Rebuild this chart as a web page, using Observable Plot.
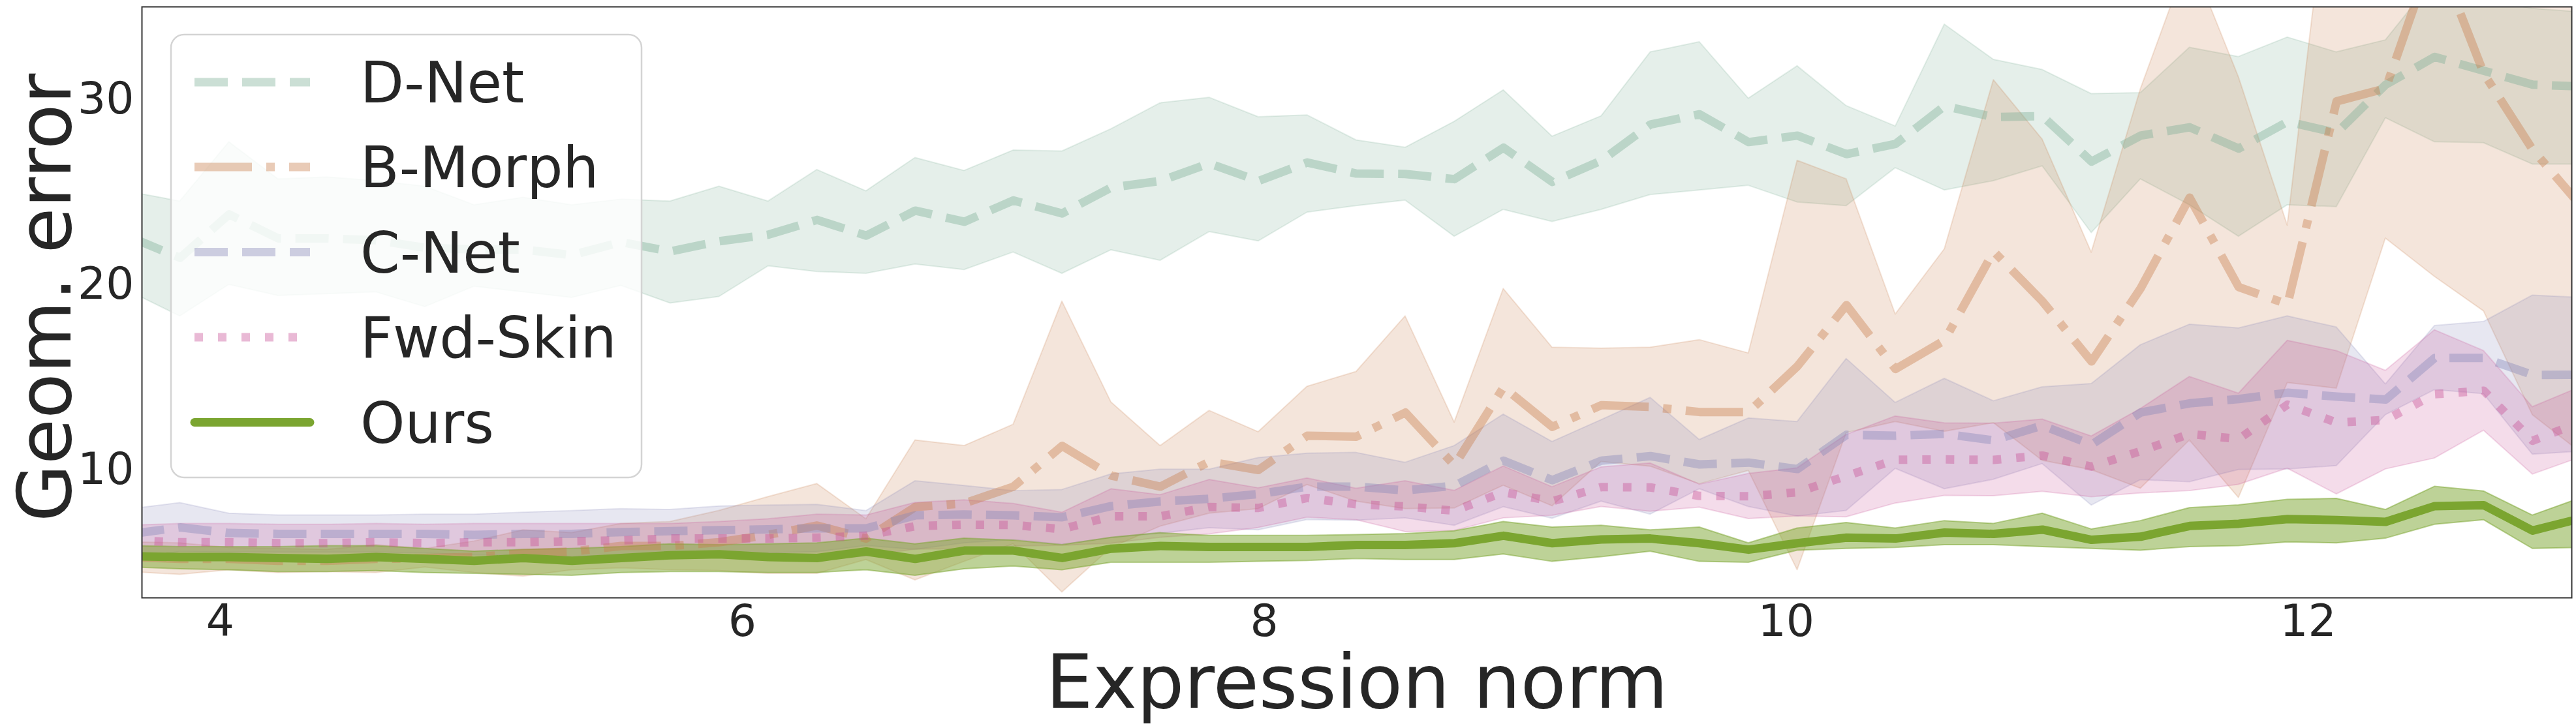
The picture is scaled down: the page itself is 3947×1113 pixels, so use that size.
<!DOCTYPE html>
<html>
<head>
<meta charset="utf-8">
<script src="https://cdn.jsdelivr.net/npm/d3@7"></script>
<script src="https://cdn.jsdelivr.net/npm/@observablehq/plot@0.6"></script>
<style>
  html, body { margin: 0; padding: 0; background: #ffffff; }
  #chart { width: 3947px; height: 1113px; overflow: hidden; }
  #chart svg { display: block; }
</style>
</head>
<body>
<div id="chart"></div>
<script>
// ---------------- data ----------------
const expressionNorm = [3.658, 3.846, 4.034, 4.222, 4.409, 4.597, 4.785, 4.973, 5.161, 5.348,
  5.536, 5.724, 5.912, 6.100, 6.287, 6.475, 6.663, 6.851, 7.039, 7.226,
  7.414, 7.602, 7.790, 7.978, 8.165, 8.353, 8.541, 8.729, 8.917, 9.104,
  9.292, 9.480, 9.668, 9.856, 10.043, 10.231, 10.419, 10.607, 10.795, 10.982,
  11.170, 11.358, 11.546, 11.734, 11.921, 12.109, 12.297, 12.485, 12.673, 12.860, 13.048];

const methods = ["D-Net", "B-Morph", "C-Net", "Fwd-Skin", "Ours"];
const xTicks = [4, 6, 8, 10, 12];
const yTicks = [10, 20, 30];

const dnetMean = [22.55, 21.45, 23.8, 22.5, 22.5, 22.4, 22.0, 21.9, 21.9, 21.6,
  22.3, 21.8, 22.35, 22.7, 23.5, 22.65, 24.0, 23.4, 24.55, 23.85,
  25.25, 25.6, 26.55, 25.6, 26.6, 26.0, 25.98, 25.7, 27.4, 25.55,
  26.7, 28.65, 29.2, 27.7, 28.05, 27.05, 27.6, 29.65, 29.05, 29.1,
  26.65, 28.05, 28.5, 27.35, 28.8, 28.2, 30.8, 32.3, 31.55, 30.8, 30.7];
const dnetHi = [25.0, 24.5, 27.7, 25.7, 25.8, 25.6, 25.3, 24.3, 24.7, 24.3,
  24.6, 24.5, 25.3, 24.5, 26.2, 25.05, 26.85, 26.15, 27.25, 27.2,
  28.4, 29.8, 30.1, 29.05, 29.15, 27.8, 27.4, 28.8, 30.5, 28.0,
  29.1, 32.55, 33.1, 30.05, 31.8, 29.65, 28.55, 34.05, 32.15, 31.6,
  30.3, 30.35, 32.8, 32.3, 33.35, 32.55, 33.2, 36.5, 35.4, 34.9, 34.7];
const dnetLo = [19.6, 18.3, 20.0, 19.4, 19.5, 19.6, 18.8, 19.9, 19.6, 19.3,
  19.95, 19.0, 19.35, 21.0, 20.7, 20.6, 21.1, 20.8, 21.75, 20.6,
  21.87, 21.3, 22.85, 22.35, 23.9, 24.25, 24.55, 22.6, 24.05, 23.4,
  24.05, 24.85, 25.1, 25.35, 24.45, 24.25, 26.3, 25.1, 25.6, 26.4,
  22.8, 25.7, 24.3, 22.6, 24.3, 24.2, 29.0, 27.7, 27.65, 26.5, 26.5];

const bmorphMean = [5.3, 5.2, 5.2, 5.1, 5.1, 5.2, 5.25, 5.3, 5.5, 5.6,
  5.9, 5.9, 6.1, 6.5, 7.0, 6.3, 8.0, 8.2, 9.1, 11.3,
  9.7, 9.1, 10.45, 10.0, 11.85, 11.8, 13.1, 10.25, 14.47, 12.33,
  13.5, 13.4, 13.13, 13.13, 15.6, 18.9, 15.45, 17.0, 21.8, 19.1,
  15.86, 19.8, 24.7, 19.87, 18.95, 29.9, 30.6, 38.2, 31.4, 27.3, 24.2];
const bmorphHi = [6.1, 6.05, 5.8, 5.75, 5.7, 5.95, 5.75, 6.15, 6.75, 6.6,
  7.1, 7.2, 7.8, 8.55, 9.25, 7.35, 11.6, 11.3, 12.45, 19.1,
  13.65, 11.3, 13.2, 12.05, 14.5, 15.3, 18.3, 12.57, 19.78, 16.61,
  16.56, 16.61, 17.02, 16.3, 26.7, 25.7, 18.4, 21.92, 31.05, 27.84,
  21.74, 30.55, 37.8, 31.2, 23.2, 45.5, 38.7, 56.0, 44.2, 41.6, 37.5];
const bmorphLo = [4.5, 4.35, 4.6, 4.45, 4.5, 4.45, 4.75, 4.45, 4.25, 4.6,
  4.7, 4.6, 4.55, 4.4, 4.4, 5.15, 4.05, 5.05, 6.0, 3.4,
  5.8, 6.95, 7.65, 7.9, 9.2, 8.3, 7.9, 7.93, 9.16, 8.05,
  10.44, 10.19, 9.24, 9.96, 4.6, 12.0, 12.6, 12.07, 12.54, 10.5,
  10.0, 9.0, 11.6, 8.5, 14.7, 14.4, 22.5, 20.43, 18.57, 12.97, 10.9];

const cnetMean = [6.55, 6.9, 6.6, 6.55, 6.55, 6.55, 6.55, 6.5, 6.55, 6.55,
  6.65, 6.7, 6.75, 6.8, 6.85, 6.85, 7.55, 7.6, 7.55, 7.45,
  8.05, 8.3, 8.45, 8.7, 9.1, 9.1, 8.9, 9.15, 10.5, 9.45,
  10.5, 10.75, 10.3, 10.4, 10.05, 11.9, 11.85, 11.95, 11.6, 12.4,
  11.37, 13.1, 13.6, 13.83, 14.17, 13.96, 13.8, 16.05, 16.05, 15.13, 15.15];
const cnetHi = [7.9, 8.22, 7.65, 7.55, 7.55, 7.55, 7.6, 7.6, 7.7, 7.79,
  7.9, 7.85, 8.04, 8.09, 8.13, 7.79, 9.4, 9.15, 8.87, 8.93,
  9.77, 10.03, 10.03, 10.65, 10.89, 10.93, 10.4, 11.3, 13.0, 11.52,
  12.7, 13.9, 11.63, 12.79, 12.6, 16.0, 13.63, 14.93, 13.72, 14.47,
  14.65, 16.74, 17.85, 17.65, 18.3, 17.7, 14.63, 17.78, 18.0, 19.42, 19.3];
const cnetLo = [5.2, 5.58, 5.55, 5.55, 5.55, 5.55, 5.5, 5.4, 5.4, 5.31,
  5.4, 5.55, 5.46, 5.51, 5.57, 5.91, 5.7, 6.05, 6.23, 5.97,
  6.33, 6.57, 6.87, 6.75, 7.31, 7.27, 7.4, 7.0, 8.0, 7.38,
  8.3, 7.6, 8.97, 8.01, 7.5, 7.8, 10.07, 8.97, 9.48, 10.33,
  8.09, 9.46, 9.35, 10.01, 10.04, 10.22, 12.97, 14.32, 14.1, 10.84, 11.0];

const fwdMean = [6.2, 6.1, 6.1, 6.05, 6.05, 6.1, 6.05, 6.1, 6.1, 6.15,
  6.2, 6.3, 6.3, 6.3, 6.35, 6.45, 6.97, 7.05, 7.03, 6.81,
  7.5, 7.5, 8.0, 7.95, 8.49, 8.15, 8.03, 7.8, 8.8, 8.31,
  9.08, 9.06, 8.6, 8.58, 8.8, 9.68, 10.55, 10.57, 10.55, 10.78,
  10.18, 11.02, 11.95, 11.67, 13.53, 12.56, 12.7, 14.09, 14.28, 11.58, 12.6];
const fwdHi = [7.0, 7.1, 7.1, 7.05, 7.05, 7.1, 7.05, 7.1, 7.1, 7.1,
  7.1, 7.1, 7.2, 7.35, 7.6, 7.55, 8.23, 8.37, 8.18, 7.7,
  8.97, 8.65, 9.47, 9.02, 9.55, 9.0, 9.4, 8.88, 10.2, 9.08,
  10.15, 10.36, 9.22, 9.8, 10.1, 11.9, 12.9, 12.53, 12.51, 12.73,
  11.82, 13.3, 15.03, 14.13, 16.98, 16.43, 15.36, 17.55, 16.43, 13.4, 14.5];
const fwdLo = [5.4, 5.1, 5.1, 5.05, 5.05, 5.1, 5.05, 5.1, 5.1, 5.2,
  5.3, 5.5, 5.4, 5.25, 5.1, 5.35, 5.71, 5.73, 5.88, 5.92,
  6.03, 6.35, 6.53, 6.88, 7.43, 7.3, 6.66, 6.72, 7.4, 7.54,
  8.01, 7.76, 7.98, 7.36, 7.5, 7.46, 8.2, 8.61, 8.59, 8.83,
  8.54, 8.74, 8.87, 9.21, 10.08, 8.69, 10.04, 10.63, 12.13, 9.76, 10.7];

const oursMean = [5.35, 5.3, 5.3, 5.25, 5.2, 5.3, 5.2, 5.1, 5.25, 5.1,
  5.25, 5.4, 5.45, 5.3, 5.25, 5.6, 5.2, 5.65, 5.65, 5.25,
  5.75, 5.9, 5.85, 5.85, 5.85, 5.95, 5.95, 6.05, 6.45, 6.05,
  6.25, 6.3, 6.05, 5.7, 6.05, 6.35, 6.3, 6.62, 6.55, 6.78,
  6.23, 6.4, 6.98, 7.1, 7.35, 7.3, 7.2, 8.05, 8.1, 6.73, 7.4];
const oursHi = [5.9, 5.85, 5.85, 5.85, 5.9, 5.9, 5.75, 5.6, 5.7, 5.75,
  5.85, 6.0, 5.95, 6.0, 6.05, 6.3, 6.0, 6.3, 6.2, 5.95,
  6.35, 6.6, 6.45, 6.45, 6.45, 6.5, 6.55, 6.7, 7.2, 6.9,
  7.0, 6.75, 6.9, 6.05, 6.85, 7.15, 6.85, 7.25, 7.1, 7.65,
  6.8, 7.25, 7.95, 8.1, 8.4, 8.45, 7.85, 9.1, 8.85, 7.55, 8.5];
const oursLo = [4.75, 4.65, 4.6, 4.5, 4.5, 4.55, 4.45, 4.4, 4.35, 4.3,
  4.45, 4.5, 4.5, 4.45, 4.45, 4.6, 4.3, 4.65, 4.8, 4.6,
  5.0, 5.0, 5.0, 5.05, 5.1, 5.2, 5.15, 5.15, 5.45, 5.05,
  5.3, 5.6, 5.05, 5.0, 5.65, 5.75, 5.8, 5.95, 5.95, 5.85,
  5.75, 5.65, 5.85, 5.9, 6.1, 6.05, 6.3, 7.05, 7.3, 5.75, 5.8];

// ---------------- styling ----------------
const seriesValues = {
  "D-Net":    {mean: dnetMean,   lo: dnetLo,   hi: dnetHi},
  "B-Morph":  {mean: bmorphMean, lo: bmorphLo, hi: bmorphHi},
  "C-Net":    {mean: cnetMean,   lo: cnetLo,   hi: cnetHi},
  "Fwd-Skin": {mean: fwdMean,    lo: fwdLo,    hi: fwdHi},
  "Ours":     {mean: oursMean,   lo: oursLo,   hi: oursHi}
};
const LW = 13;
const styles = {
  "D-Net":    {color: "#7daf96", dash: "51,22",        lineOp: 0.4, bandOp: 0.2, cap: "butt"},
  "B-Morph":  {color: "#c87d4b", dash: "88,22,13,22",  lineOp: 0.4, bandOp: 0.2, cap: "butt"},
  "C-Net":    {color: "#8787b9", dash: "51,22",        lineOp: 0.4, bandOp: 0.2, cap: "butt"},
  "Fwd-Skin": {color: "#c85096", dash: "13,23",        lineOp: 0.4, bandOp: 0.2, cap: "butt"},
  "Ours":     {color: "#7ba530", dash: null,           lineOp: 1.0, bandOp: 0.5, cap: "round"}
};

const rows = [];
for (const m of methods) {
  const s = seriesValues[m];
  expressionNorm.forEach((x, i) => rows.push({method: m, x, mean: s.mean[i], lo: s.lo[i], hi: s.hi[i]}));
}

const marks = [];
for (const m of methods) {
  const st = styles[m];
  marks.push(Plot.areaY(rows.filter(d => d.method === m), {
    x: "x", y1: "lo", y2: "hi",
    fill: st.color, fillOpacity: st.bandOp,
    stroke: st.color, strokeOpacity: st.bandOp, strokeWidth: 2,
    clip: true
  }));
}
for (const m of methods) {
  const st = styles[m];
  const opts = {
    x: "x", y: "mean",
    stroke: st.color, strokeOpacity: st.lineOp, strokeWidth: LW,
    strokeLinejoin: "round", strokeLinecap: st.cap,
    clip: true
  };
  if (st.dash) opts.strokeDasharray = st.dash;
  marks.push(Plot.lineY(rows.filter(d => d.method === m), opts));
}
marks.push(Plot.frame({stroke: "#333333", strokeWidth: 2}));
marks.push(Plot.axisX({ticks: xTicks, tickSize: 0, tickPadding: 10, fontSize: 68, label: null, fill: "#262626"}));
marks.push(Plot.axisY({ticks: yTicks, tickSize: 0, tickPadding: 12, fontSize: 68, label: null, fill: "#262626"}));
marks.push(Plot.text(["Expression norm"], {frameAnchor: "bottom", dy: 132, fontSize: 114, fill: "#262626", lineAnchor: "middle", textAnchor: "middle"}));
marks.push(Plot.text(["Geom. error"], {frameAnchor: "left", dx: -146, dy: -7, rotate: -90, fontSize: 114, fill: "#262626", lineAnchor: "middle", textAnchor: "middle"}));

const svg = Plot.plot({
  width: 3947,
  height: 1113,
  marginLeft: 217,
  marginRight: 7,
  marginTop: 10,
  marginBottom: 197,
  x: {domain: [3.7, 13.01]},
  y: {domain: [3.1, 35]},
  style: {fontFamily: "'DejaVu Sans', sans-serif", background: "#ffffff", color: "#262626", fontSize: "68px", overflow: "visible"},
  marks
});

// ---------------- legend (inside the plot, upper left) ----------------
const lg = d3.select(svg).append("g").attr("class", "legend").attr("text-anchor", "start");
lg.append("rect")
  .attr("x", 262).attr("y", 53).attr("width", 721).attr("height", 679)
  .attr("rx", 20).attr("ry", 20)
  .attr("fill", "#ffffff").attr("fill-opacity", 0.8)
  .attr("stroke", "#d4d4d4").attr("stroke-width", 2.5);
const rowY = [126, 256, 386.5, 517, 647.5];
methods.forEach((m, i) => {
  const st = styles[m];
  const ln = lg.append("line")
    .attr("x1", 298).attr("x2", 475).attr("y1", rowY[i]).attr("y2", rowY[i])
    .attr("stroke", st.color).attr("stroke-opacity", st.lineOp)
    .attr("stroke-width", LW).attr("stroke-linecap", st.cap);
  if (st.dash) ln.attr("stroke-dasharray", st.dash);
  lg.append("text")
    .attr("x", 552).attr("y", rowY[i]).attr("dy", "0.36em")
    .attr("text-anchor", "start")
    .style("font-size", "87px").style("font-family", "'DejaVu Sans', sans-serif")
    .attr("fill", "#262626")
    .text(m);
});

document.getElementById("chart").appendChild(svg);
</script>
</body>
</html>
